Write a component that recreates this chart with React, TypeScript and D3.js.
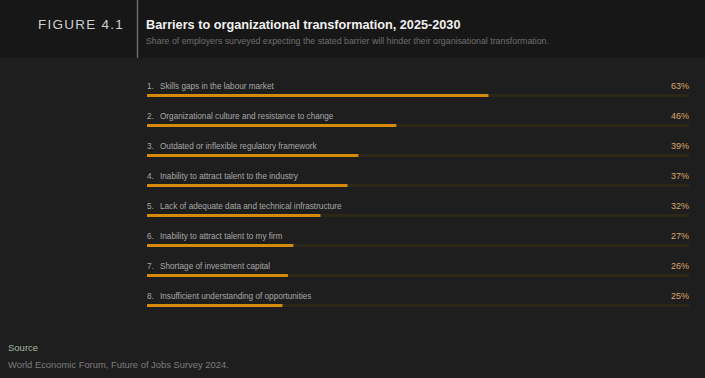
import React from "react";
import * as d3 from "d3";

const categories = [
  "Skills gaps in the labour market",
  "Organizational culture and resistance to change",
  "Outdated or inflexible regulatory framework",
  "Inability to attract talent to the industry",
  "Lack of adequate data and technical infrastructure",
  "Inability to attract talent to my firm",
  "Shortage of investment capital",
  "Insufficient understanding of opportunities",
];
const values = [63, 46, 39, 37, 32, 27, 26, 25];

const W = 705;
const H = 378;
const FONT = "'Liberation Sans', Arial, Helvetica, sans-serif";

export default function App() {
  const x = d3.scaleLinear().domain([0, 100]).range([147, 689]);
  const y = d3.scaleBand<number>().domain(d3.range(categories.length)).range([74, 314]).padding(0);
  return (
    <div style={{ position: "fixed", left: 0, top: 0, width: W, height: H }}>
      <svg width={W} height={H} style={{ display: "block" }}>
        <rect x={0} y={0} width={W} height={H} fill="#1e1e1e" />
        <rect x={0} y={0} width={W} height={58} fill="#171717" />
        <line x1={137.5} x2={137.5} y1={0} y2={58} stroke="#6a6a6a" strokeWidth={1.5} />
        <text x={38} y={29} fill="#cfcfcf" fontFamily={FONT} fontSize={13.5} letterSpacing={1.25} fontWeight={300}>
          FIGURE 4.1
        </text>
        <text x={146} y={29} fill="#f0f0f0" fontFamily={FONT} fontSize={12.7} fontWeight="bold">
          Barriers to organizational transformation, 2025-2030
        </text>
        <text x={146} y={44} fill="#6f6f6f" fontFamily={FONT} fontSize={8.8}>
          Share of employers surveyed expecting the stated barrier will hinder their organisational transformation.
        </text>
        {categories.map((c, i) => {
          const top = y(i) as number;
          return (
            <g key={c}>
              <text x={147} y={top + 15} fill="#a8a8a8" fontFamily={FONT} fontSize={8.2}>
                {`${i + 1}.`}
              </text>
              <text x={160} y={top + 15} fill="#a8a8a8" fontFamily={FONT} fontSize={8.2}>
                {c}
              </text>
              <text x={689} y={top + 15} textAnchor="end" fill="#dca66a" fontFamily={FONT} fontSize={9}>
                {`${values[i]}%`}
              </text>
              <rect x={x(0)} y={top + 20} width={x(100) - x(0)} height={3} fill="#2b2817" />
              <rect x={x(0)} y={top + 20} width={x(values[i]) - x(0)} height={3} fill="#d68a0a" />
            </g>
          );
        })}
        <text x={8} y={351} fill="#a3b8a0" fontFamily={FONT} fontSize={9.5}>
          Source
        </text>
        <text x={8} y={368} fill="#7d7d7d" fontFamily={FONT} fontSize={9.4}>
          World Economic Forum, Future of Jobs Survey 2024.
        </text>
      </svg>
    </div>
  );
}
